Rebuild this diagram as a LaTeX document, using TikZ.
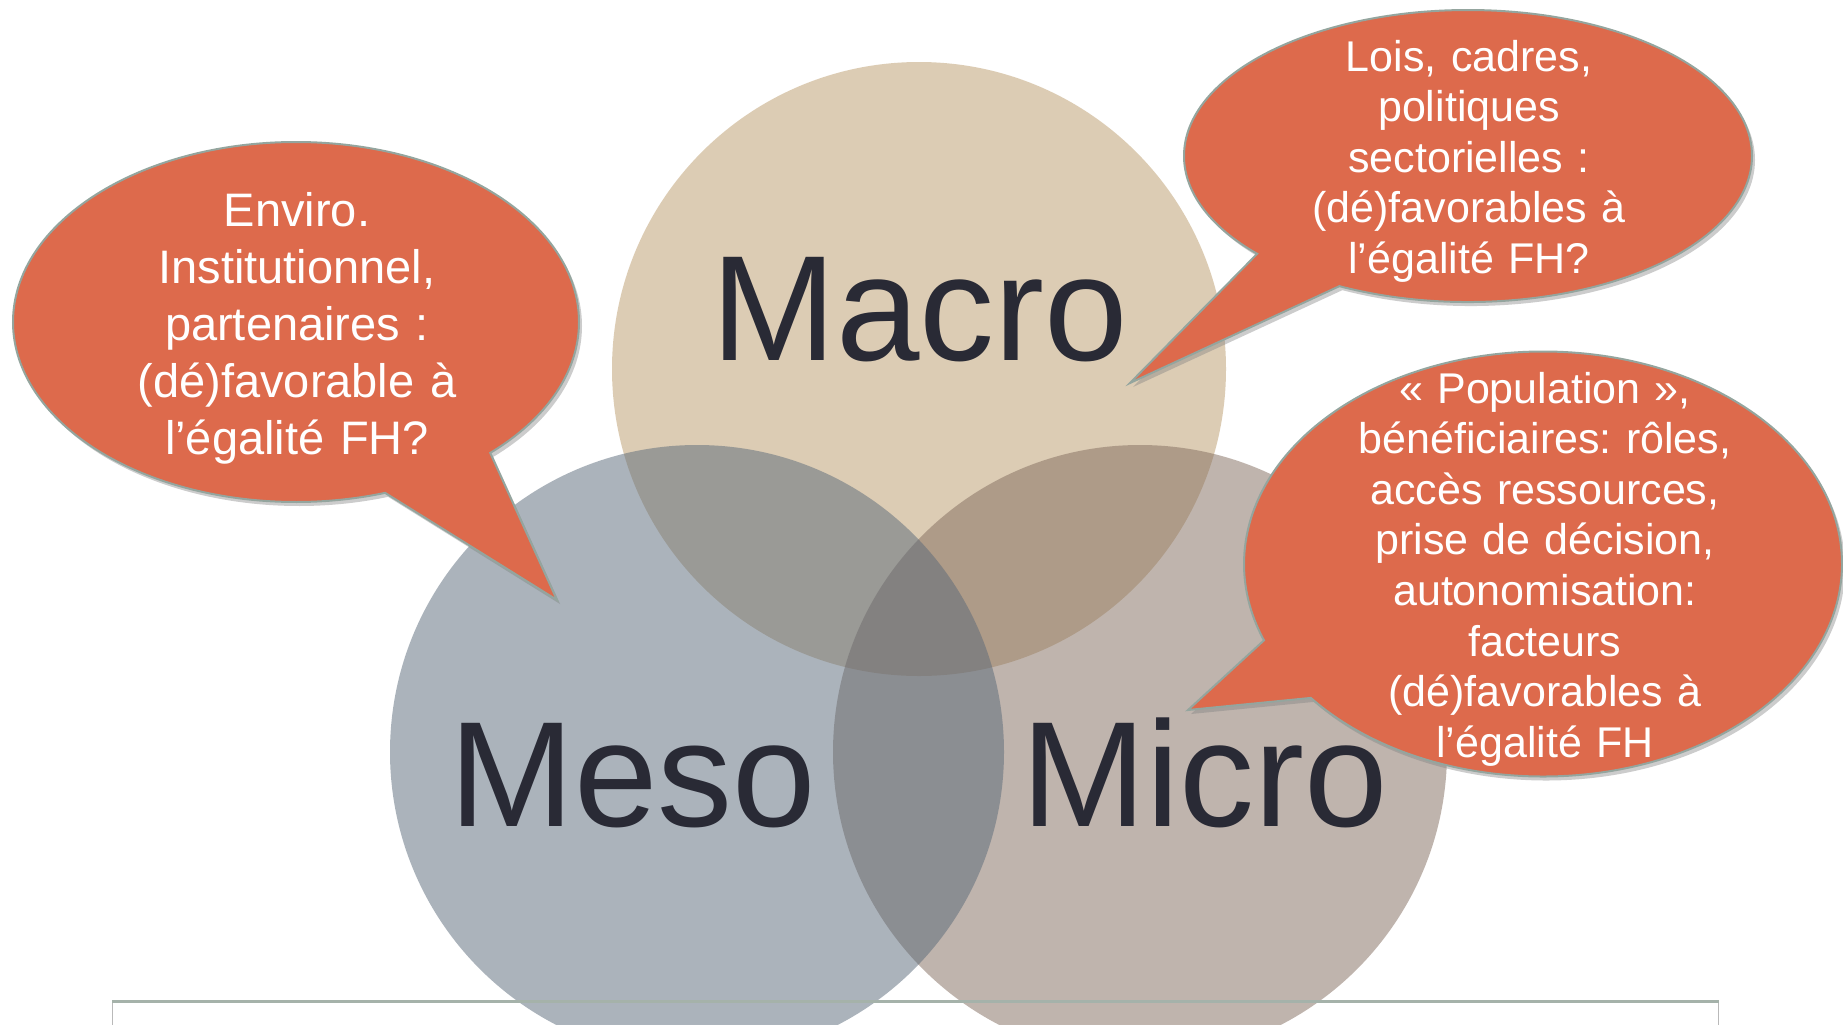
\documentclass[tikz,border=0pt]{standalone}
\usepackage{fontspec}
\setmainfont{Liberation Sans}
\frenchspacing
\usetikzlibrary{shapes.callouts,shadows,positioning}
\definecolor{macrobeige}{RGB}{187,155,107}
\definecolor{mesoblue}{RGB}{89,105,121}
\definecolor{microtaupe}{RGB}{129,107,93}
\definecolor{bubbleorange}{RGB}{221,106,76}
\definecolor{bubbleedge}{RGB}{148,165,158}
\definecolor{labelink}{RGB}{41,42,53}
\definecolor{boxedge}{RGB}{165,178,170}

\begin{document}
\begin{tikzpicture}[x=0.5pt,y=-0.5pt]
  \tikzstyle{level_circle}=[circle,minimum size=307pt,inner sep=0pt,fill opacity=0.5]
  \tikzstyle{level_label}=[anchor=base,inner sep=0pt,text=labelink,font=\fontsize{75}{90}\selectfont]
  \tikzstyle{bubble}=[ellipse callout,inner sep=0pt,fill=bubbleorange,draw=bubbleedge,line width=1pt,
    drop shadow={shadow xshift=1.5pt,shadow yshift=-2pt,opacity=0.4}]
  \tikzstyle{bubble_text}=[anchor=base,inner sep=0pt,text width=300pt,align=center,text=white,
    font=\fontsize{21.5}{25.3}\selectfont]
  \useasboundingbox (0,0) rectangle (1843,1024);
  \clip (0,0) rectangle (1843,1024);
  \fill[white] (0,0) rectangle (1843,1024);
  % the three levels
  \node[level_circle, fill=macrobeige] (macro) at (919,369) {};
  \node[level_circle, fill=microtaupe] (micro) at (1140,752) {};
  \node[level_circle, fill=mesoblue] (meso) at (697,752) {};
  \node[level_label] (macro_lbl) at (919.5,360) {Macro};
  \node[level_label] (meso_lbl) at (632.5,826) {Meso};
  \node[level_label] (micro_lbl) at (1205,826) {Micro};
  % box at the foot of the slide
  \node[draw=gray!55, line width=0.5pt, anchor=north west, minimum width=803pt, minimum height=30pt] (footbox) at (112,1001) {};
  \draw[boxedge, line width=1.5pt] (footbox.north west) -- (footbox.north east);
  % speech bubbles
  \node[bubble, minimum width=283pt, minimum height=180pt,
    callout absolute pointer={(557,600)}, callout pointer arc=25] (enviro) at (296,322) {};
  \node[bubble_text, font=\fontsize{23.5}{28.5}\selectfont] (enviro_txt) at (297,226)
    {Enviro.\\ Institutionnel,\\ partenaires :\\ (dé)favorable à\\ l’égalité FH?};
  \node[bubble, minimum width=284pt, minimum height=146pt,
    callout absolute pointer={(1130,383)}, callout pointer arc=21] (lois) at (1468,156) {};
  \node[bubble_text] (lois_txt) at (1469,71)
    {Lois, cadres,\\ politiques\\ sectorielles :\\ (dé)favorables à\\ l’égalité FH?};
  \node[bubble, minimum width=299pt, minimum height=212.5pt,
    callout absolute pointer={(1188,710)}, callout pointer arc=18] (population) at (1543,564) {};
  \node[bubble_text] (population_txt) at (1545,403)
    {« Population »,\\ bénéficiaires: rôles,\\ accès ressources,\\ prise de décision,\\ autonomisation:\\ facteurs\\ (dé)favorables à\\ l’égalité FH};
\end{tikzpicture}
\end{document}
